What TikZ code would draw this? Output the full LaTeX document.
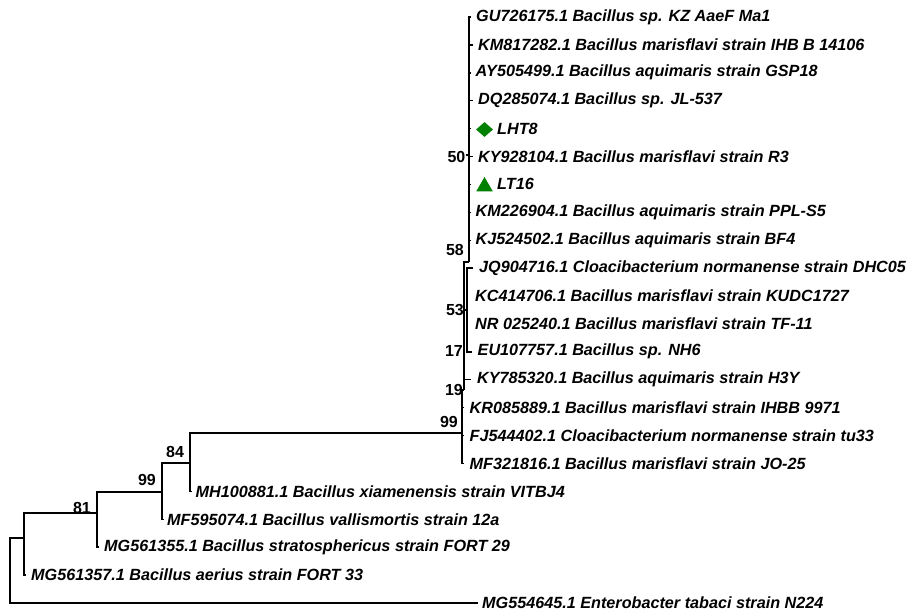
\documentclass[tikz,border=0pt]{standalone}
\usepackage{fontspec}
\setmainfont{Liberation Sans}
\usetikzlibrary{shapes.geometric}
\definecolor{mkgreen}{RGB}{0,128,0}
\begin{document}
\begin{tikzpicture}[x=1pt,y=-1pt,
  br/.style={line width=1.4pt},
  leaf/.style={anchor=west, inner sep=0pt, font=\fontsize{16.2}{19}\selectfont\bfseries\itshape},
  boot/.style={inner sep=0pt, font=\fontsize{16}{19}\selectfont\bfseries},
]
\useasboundingbox (0,0) rectangle (917,614);
% internal nodes
\coordinate (root) at (10,570);
\coordinate (nA) at (24,538);
\coordinate (n81) at (97,513);
\coordinate (n99b) at (162,492);
\coordinate (n84) at (190,463);
\coordinate (n99a) at (462,433);
\coordinate (n19) at (464,390);
\coordinate (n17) at (464,350);
\coordinate (n53) at (467,310);
\coordinate (n58) at (469,262);
\coordinate (n50) at (469,155);
\coordinate (n50in) at (465.5,155);
% leaf tips
\coordinate (t1) at (470.5,17.0);
\coordinate (t2) at (473,44.9);
\coordinate (t3) at (470.5,72.8);
\coordinate (t4) at (473,100.7);
\coordinate (t5) at (470.5,128.6);
\coordinate (t6) at (473,156.5);
\coordinate (t7) at (470.5,184.4);
\coordinate (t8) at (470.5,212.3);
\coordinate (t9) at (470.5,240.2);
\coordinate (t10) at (473,268.1);
\coordinate (t11) at (468,296.0);
\coordinate (t12) at (468,323.9);
\coordinate (t13) at (471.5,351.8);
\coordinate (t14) at (471,379.7);
\coordinate (t15) at (464,407.6);
\coordinate (t16) at (464,435.5);
\coordinate (t17) at (464,463.4);
\coordinate (t18) at (192,491.3);
\coordinate (t19) at (164,519.2);
\coordinate (t20) at (99,547.1);
\coordinate (t21) at (26,575.0);
\coordinate (t22) at (478,602.9);
% labels
\node[leaf] (l1) at (476,17.0) {GU726175.1 Bacillus sp. KZ AaeF Ma1};
\node[leaf] (l2) at (478,44.9) {KM817282.1 Bacillus marisflavi strain IHB B 14106};
\node[leaf] (l3) at (475.5,72.8) {AY505499.1 Bacillus aquimaris strain GSP18};
\node[leaf] (l4) at (478,100.7) {DQ285074.1 Bacillus sp. JL-537};
\node[diamond, fill=mkgreen, inner sep=0pt, minimum width=17pt, minimum height=15pt] (m5) at (484.5,129.5) {};
\node[leaf] (l5) at (497,128.6) {LHT8};
\node[leaf] (l6) at (478,156.5) {KY928104.1 Bacillus marisflavi strain R3};
\node[regular polygon, regular polygon sides=3, fill=mkgreen, inner sep=0pt, minimum size=19pt] (m7) at (484.5,186.5) {};
\node[leaf] (l7) at (497,184.4) {LT16};
\node[leaf] (l8) at (475.5,212.3) {KM226904.1 Bacillus aquimaris strain PPL-S5};
\node[leaf] (l9) at (475.5,240.2) {KJ524502.1 Bacillus aquimaris strain BF4};
\node[leaf] (l10) at (479,268.1) {JQ904716.1 Cloacibacterium normanense strain DHC05};
\node[leaf] (l11) at (475,296.0) {KC414706.1 Bacillus marisflavi strain KUDC1727};
\node[leaf] (l12) at (475,323.9) {NR 025240.1 Bacillus marisflavi strain TF-11};
\node[leaf] (l13) at (477.5,351.8) {EU107757.1 Bacillus sp. NH6};
\node[leaf] (l14) at (477,379.7) {KY785320.1 Bacillus aquimaris strain H3Y};
\node[leaf] (l15) at (469.5,407.6) {KR085889.1 Bacillus marisflavi strain IHBB 9971};
\node[leaf] (l16) at (469.5,435.5) {FJ544402.1 Cloacibacterium normanense strain tu33};
\node[leaf] (l17) at (469.5,463.4) {MF321816.1 Bacillus marisflavi strain JO-25};
\node[leaf] (l18) at (195.5,491.3) {MH100881.1 Bacillus xiamenensis strain VITBJ4};
\node[leaf] (l19) at (167,519.2) {MF595074.1 Bacillus vallismortis strain 12a};
\node[leaf] (l20) at (104,547.1) {MG561355.1 Bacillus stratosphericus strain FORT 29};
\node[leaf] (l21) at (31,575.0) {MG561357.1 Bacillus aerius strain FORT 33};
\node[leaf] (l22) at (482,602.9) {MG554645.1 Enterobacter tabaci strain N224};
% bootstrap values
\node[boot, anchor=east] (b50) at (465.5,157) {50};
\node[boot, anchor=east] (b58) at (464,250) {58};
\node[boot, anchor=east] (b53) at (464,310) {53};
\node[boot, anchor=east] (b17) at (463,351) {17};
\node[boot, anchor=east] (b19) at (463,390) {19};
\node[boot, anchor=east] (b99a) at (458,422) {99};
\node[boot] (b84) at (175,452) {84};
\node[boot] (b99b) at (147,480) {99};
\node[boot] (b81) at (82,508) {81};
% branches
\draw[br] (root) |- (nA);
\draw[br] (root) |- (t22);
\draw[br] (nA) |- (n81);
\draw[br] (nA) |- (t21);
\draw[br] (n81) |- (n99b);
\draw[br] (n81) |- (t20);
\draw[br] (n99b) |- (n84);
\draw[br] (n99b) |- (t19);
\draw[br] (n84) |- (n99a);
\draw[br] (n84) |- (t18);
\draw[br] (n99a) |- (n19);
\draw[br] (n99a) |- (t15);
\draw[br] (n99a) |- (t16);
\draw[br] (n99a) |- (t17);
\draw[br] (n19) |- (t14);
\draw[br] (n19) |- (n17);
\draw[br] (n17) |- (n53);
\draw[br] (n17) |- (n58);
\draw[br] (n53) |- (t10);
\draw[br] (n53) |- (t11);
\draw[br] (n53) |- (t12);
\draw[br] (n53) |- (t13);
\draw[br] (n58) |- (t7);
\draw[br] (n58) |- (t8);
\draw[br] (n58) |- (t9);
\draw[br] (n58) |- (n50);
\draw[br] (n50in) -- (n50);
\draw[br] (n50) |- (t1);
\draw[br] (n50) |- (t2);
\draw[br] (n50) |- (t3);
\draw[br] (n50) |- (t4);
\draw[br] (n50) |- (t5);
\draw[br] (n50) |- (t6);
\end{tikzpicture}
\end{document}
